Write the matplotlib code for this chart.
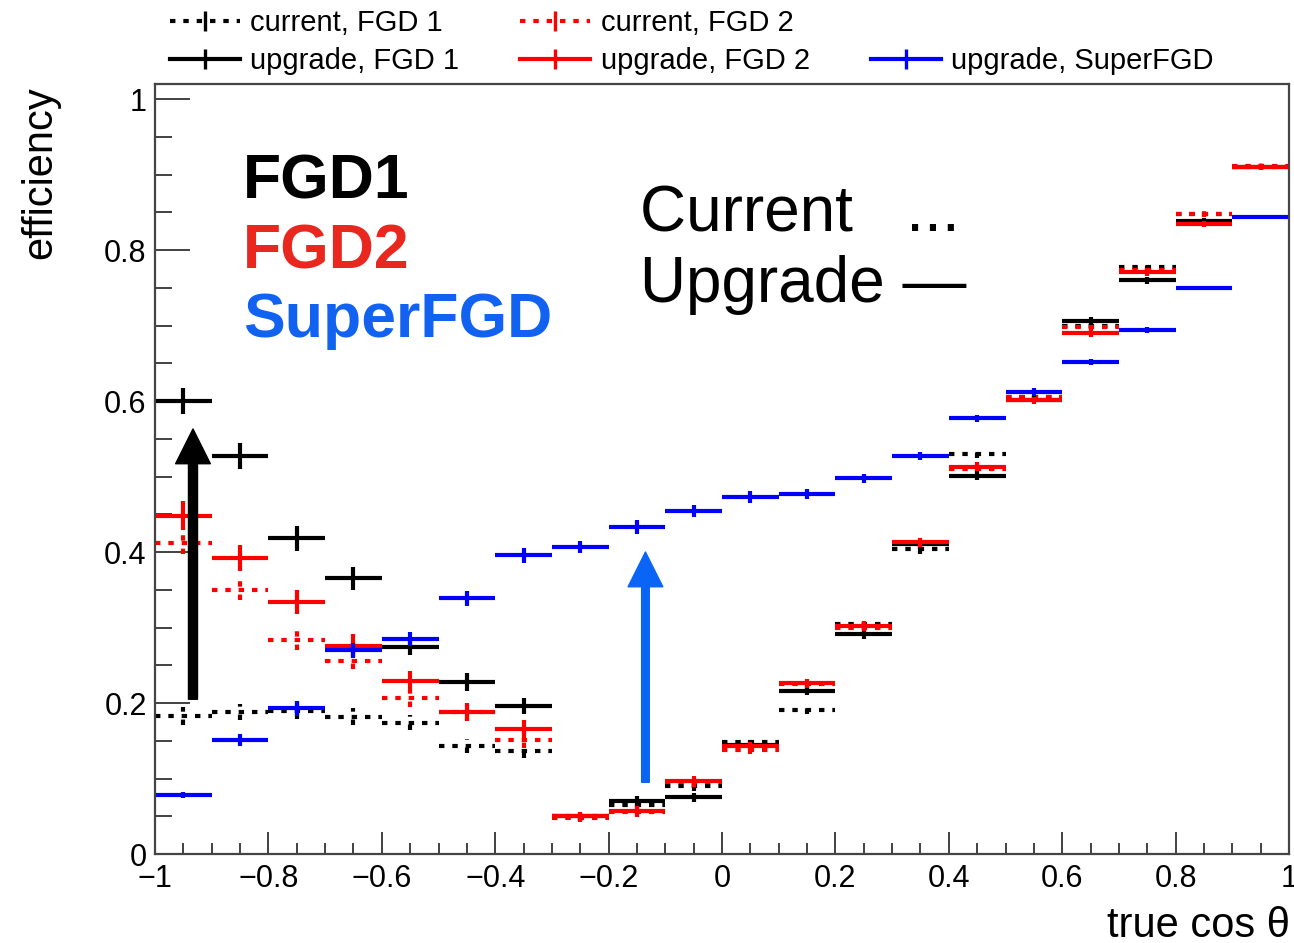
import numpy as np
import matplotlib
matplotlib.use('Agg')
import matplotlib.pyplot as plt
from matplotlib.lines import Line2D
from matplotlib.legend_handler import HandlerTuple
from matplotlib.ticker import MultipleLocator, FuncFormatter

plt.rcParams['font.family'] = ['Liberation Sans', 'DejaVu Sans']

# binning in true cos(theta)
bin_edges = np.linspace(-1.0, 1.0, 21)
bin_centers = 0.5 * (bin_edges[:-1] + bin_edges[1:])
half_width = 0.05

# efficiencies
cur_fgd1 = [0.183, 0.188, 0.190, 0.182, 0.174, 0.143, 0.136, 0.050, 0.065, 0.090,
            0.148, 0.191, 0.305, 0.404, 0.530, 0.605, 0.700, 0.777, 0.848, 0.910]
cur_fgd2 = [0.412, 0.350, 0.283, 0.256, 0.206, 0.188, 0.151, 0.048, 0.055, 0.095,
            0.138, 0.225, 0.300, 0.410, 0.510, 0.605, 0.698, 0.773, 0.848, 0.912]
up_fgd1 = [0.600, 0.527, 0.418, 0.365, 0.274, 0.228, 0.196, 0.050, 0.070, 0.075,
           0.145, 0.216, 0.291, 0.410, 0.501, 0.602, 0.706, 0.760, 0.838, 0.910]
up_fgd2 = [0.448, 0.392, 0.334, 0.276, 0.229, 0.188, 0.166, 0.050, 0.057, 0.097,
           0.143, 0.226, 0.302, 0.413, 0.513, 0.601, 0.690, 0.771, 0.834, 0.910]
up_sfgd = [0.078, 0.151, 0.193, 0.270, 0.285, 0.339, 0.396, 0.407, 0.433, 0.454,
           0.473, 0.477, 0.498, 0.527, 0.577, 0.612, 0.652, 0.694, 0.750, 0.844]

# statistical errors (half heights of the vertical bars)
err_cur_fgd1 = [0.012, 0.011, 0.011, 0.011, 0.010, 0.009, 0.009, 0.006, 0.006, 0.006,
                0.006, 0.006, 0.006, 0.006, 0.006, 0.005, 0.005, 0.005, 0.004, 0.004]
err_cur_fgd2 = [0.014, 0.013, 0.013, 0.011, 0.011, 0.010, 0.010, 0.006, 0.006, 0.006,
                0.006, 0.006, 0.006, 0.006, 0.006, 0.005, 0.005, 0.005, 0.004, 0.004]
err_up_fgd1 = [0.017, 0.017, 0.017, 0.015, 0.011, 0.012, 0.010, 0.006, 0.007, 0.006,
               0.006, 0.006, 0.006, 0.006, 0.006, 0.005, 0.005, 0.005, 0.004, 0.004]
err_up_fgd2 = [0.019, 0.017, 0.016, 0.015, 0.014, 0.012, 0.012, 0.006, 0.006, 0.006,
               0.006, 0.006, 0.006, 0.006, 0.006, 0.005, 0.005, 0.005, 0.004, 0.004]
err_sfgd = [0.004, 0.008, 0.010, 0.010, 0.009, 0.010, 0.010, 0.008, 0.009, 0.008,
            0.008, 0.007, 0.006, 0.005, 0.005, 0.005, 0.004, 0.004, 0.003, 0.003]

dotted = (0, (1.3, 1.9))
lw = 3.0

fig = plt.figure(figsize=(12.94, 9.43), dpi=100)
ax = fig.add_axes([155 / 1294, 1 - 854 / 943, 1134 / 1294, 770 / 943])


def draw_hist(y, err, color, dashed):
    eb = ax.errorbar(bin_centers, y, xerr=half_width, yerr=err, fmt='none',
                     ecolor=color, elinewidth=lw, capsize=0)
    if dashed:
        for lc in eb.lines[2]:
            lc.set_linestyle(dotted)
    # legend handle: horizontal bar with a small vertical error bar
    line = Line2D([], [], color=color, lw=lw, ls=dotted if dashed else '-')
    tick = Line2D([], [], color=color, ls='none', marker='|', ms=15, mew=lw * 0.8)
    return (line, tick)


h_c1 = draw_hist(cur_fgd1, err_cur_fgd1, 'black', True)
h_c2 = draw_hist(cur_fgd2, err_cur_fgd2, 'red', True)
h_u1 = draw_hist(up_fgd1, err_up_fgd1, 'black', False)
h_u2 = draw_hist(up_fgd2, err_up_fgd2, 'red', False)
h_sf = draw_hist(up_sfgd, err_sfgd, 'blue', False)

ax.set_xlim(-1, 1)
ax.set_ylim(0, 1.02)

# ROOT-like axes
ax.xaxis.set_major_locator(MultipleLocator(0.2))
ax.xaxis.set_minor_locator(MultipleLocator(0.05))
ax.yaxis.set_major_locator(MultipleLocator(0.2))
ax.yaxis.set_minor_locator(MultipleLocator(0.05))
fmt = FuncFormatter(lambda v, p: ('%g' % round(v, 2)).replace('-', '\u2212'))
ax.xaxis.set_major_formatter(fmt)
ax.yaxis.set_major_formatter(fmt)
ax.tick_params(axis='both', which='both', direction='in', color='#333333',
               width=1.3, labelsize=22, top=False, right=False)
ax.tick_params(axis='x', which='major', length=16, pad=7)
ax.tick_params(axis='x', which='minor', length=8)
ax.tick_params(axis='y', which='major', length=25, pad=6)
ax.tick_params(axis='y', which='minor', length=12)
for s in ax.spines.values():
    s.set_color('#444444')
    s.set_linewidth(1.6)

fig.text(40 / 1294, 1 - 86 / 943, 'efficiency', rotation=90, ha='center',
         va='top', fontsize=30)
fig.text(1290 / 1294, 1 - 937 / 943, 'true cos \u03b8', ha='right',
         va='baseline', fontsize=30)

# annotations
ax.text(-0.845, 0.868, 'FGD1', color='black', fontsize=45, fontweight='bold')
ax.text(-0.845, 0.775, 'FGD2', color='#e8281e', fontsize=45, fontweight='bold')
ax.text(-0.845, 0.685, 'SuperFGD', color='#1262f2', fontsize=45, fontweight='bold')
ax.text(-0.144, 0.824, 'Current   ...', color='black', fontsize=46)
ax.text(-0.144, 0.731, 'Upgrade \u2014', color='black', fontsize=46)

ax.annotate('', xy=(-0.933, 0.563), xytext=(-0.933, 0.205),
            arrowprops=dict(width=6.5, headwidth=25, headlength=25,
                            color='black', shrink=0))
ax.annotate('', xy=(-0.135, 0.400), xytext=(-0.135, 0.095),
            arrowprops=dict(width=5.5, headwidth=25, headlength=25,
                            color='#0a64f5', shrink=0))

blank = Line2D([], [], alpha=0)
fig.legend([h_c1, h_u1, h_c2, h_u2, blank, h_sf],
           ['current, FGD 1', 'upgrade, FGD 1', 'current, FGD 2',
            'upgrade, FGD 2', '', 'upgrade, SuperFGD'],
           handler_map={tuple: HandlerTuple(ndivide=1)},
           ncol=3, loc='upper left', bbox_to_anchor=(170 / 1294, 1 - 9 / 943),
           frameon=False, fontsize=21, handlelength=2.4, handletextpad=0.35,
           columnspacing=2.1, labelspacing=0.35, borderpad=0, borderaxespad=0)

fig.savefig('out.png', dpi=100)
